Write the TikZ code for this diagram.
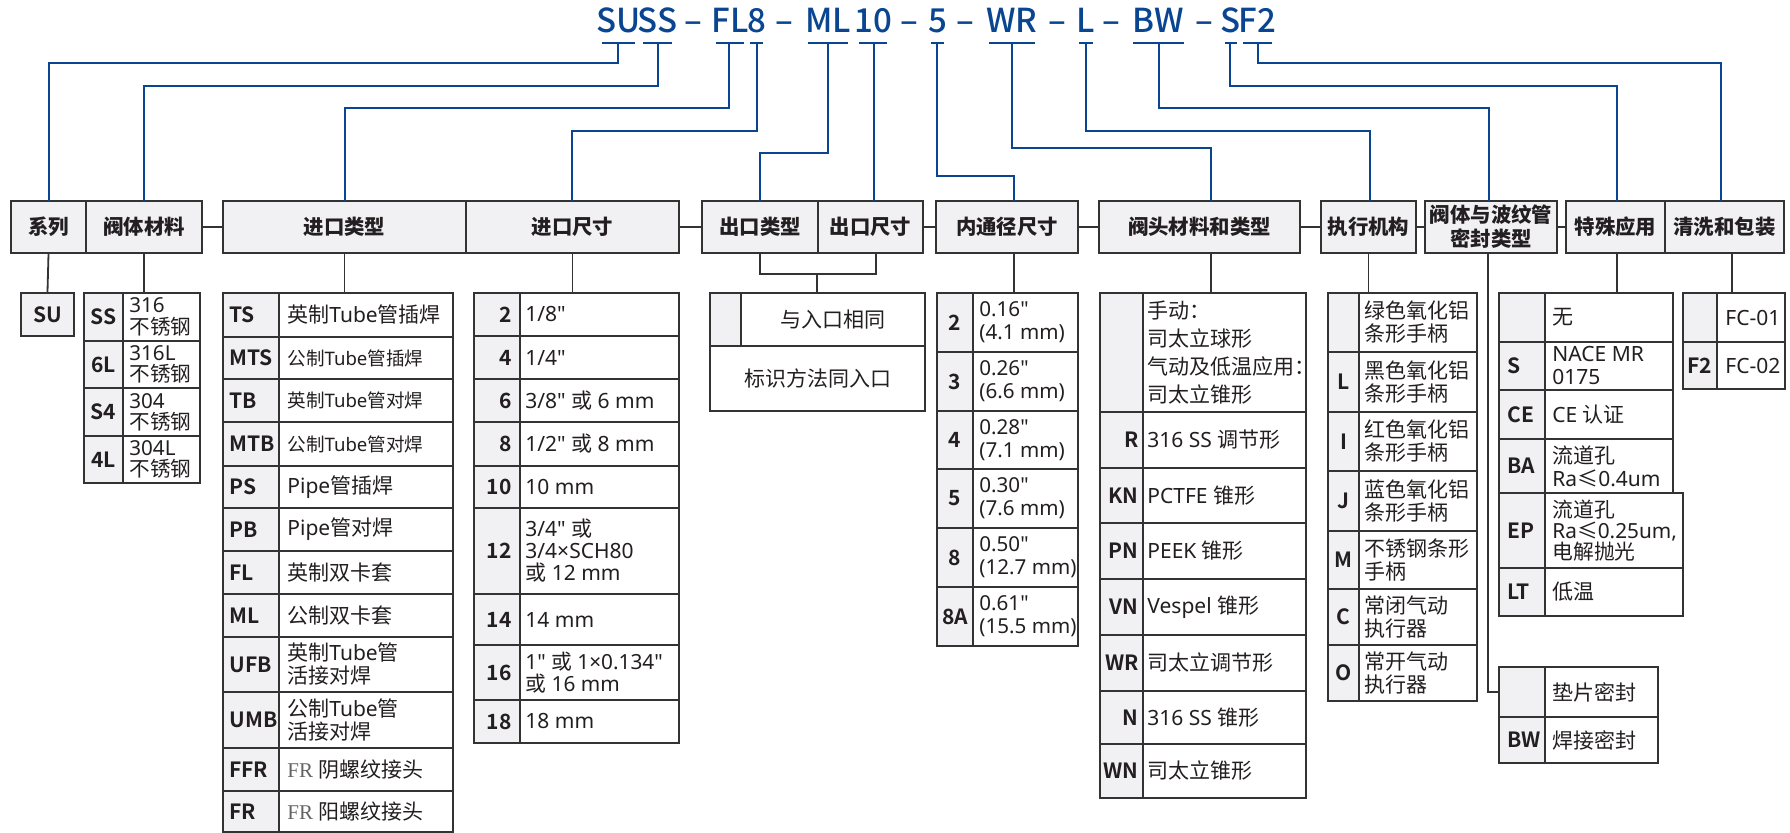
\documentclass[tikz,border=0pt]{standalone}
\usepackage{fontspec}
\newfontfamily\latfont{Noto Sans}
\setmainfont{Noto Sans}
\newfontfamily\cjkfont{Noto Sans CJK SC}[BoldFont={Noto Sans CJK SC Bold}]
\newfontfamily\serifR{Liberation Serif}
\IfFontExistsTF{Noto Sans CJK SC Medium}{\newfontfamily\topff{Noto Sans CJK SC Medium}}{\newfontfamily\topff{Noto Sans}}
\IfFontExistsTF{Noto Sans CJK SC Black}{\newfontfamily\hdrff{Noto Sans CJK SC Black}}{\newfontfamily\hdrff{Noto Sans CJK SC Bold}}
\ifdefined\newXeTeXintercharclass \newXeTeXintercharclass\cjkcls \else \chardef\cjkcls=7 \fi
\newcount\cjkc
\cjkc="4E00 \loop\ifnum\cjkc<"A000 \XeTeXcharclass\cjkc=\cjkcls \advance\cjkc by 1 \repeat
\cjkc="3000 \loop\ifnum\cjkc<"3040 \XeTeXcharclass\cjkc=\cjkcls \advance\cjkc by 1 \repeat
\cjkc="FF00 \loop\ifnum\cjkc<"FFF0 \XeTeXcharclass\cjkc=\cjkcls \advance\cjkc by 1 \repeat
\XeTeXcharclass"2264=\cjkcls
\XeTeXinterchartoks 0 \cjkcls = {\cjkfont}
\XeTeXinterchartoks 4095 \cjkcls = {\cjkfont}
\XeTeXinterchartoks \cjkcls 0 = {\latfont}
\XeTeXinterchartoks \cjkcls 4095 = {\latfont}
\XeTeXinterchartokenstate=1

\definecolor{codeblue}{HTML}{0A4592}
\definecolor{cgray}{HTML}{F1F1F4}
\definecolor{lk}{HTML}{333333}
\definecolor{tk}{HTML}{231F20}

\newcommand\topfont{\fontsize{16.5pt}{18pt}\selectfont\topff}
\newcommand\hfont{\XeTeXinterchartokenstate=0 \fontsize{10.2pt}{12pt}\selectfont\hdrff}
\newcommand\cfont{\fontsize{10.5pt}{12pt}\selectfont\cjkfont\bfseries}
\newcommand\tfont{\fontsize{10.5pt}{11.5pt}\selectfont\latfont}
\newcommand\sm{\fontsize{9.3pt}{11pt}\selectfont}
\let\txtfont\tfont

\tikzset{
  bline/.style={draw=codeblue, line width=1.15pt},
  kline/.style={draw=lk, line width=0.9pt},
  cellline/.style={draw=lk, line width=0.9pt},
  hdrbox/.style={draw=lk, line width=0.9pt, fill=cgray, inner sep=0pt, align=center, font=\hfont, text=tk, minimum height=26pt},
  topc/.style={inner sep=0pt, font=\topfont, text=codeblue},
  code/.style={inner sep=0pt, font=\cfont, text=tk},
  txt/.style={inner sep=0pt, align=left, font=\txtfont, text=tk},
}

\newcommand\crow[8]{%
  \draw[cellline, fill=cgray] (#2,#5) rectangle (#3,#6);
  \draw[cellline, fill=white] (#3,#5) rectangle (#4,#6);
  \node[code, anchor=\can] (#1c) at (\cax,{(#5+#6)/2}) {#7};
  \node[txt, anchor=west] (#1t) at ({#3+\tpad},{(#5+#6)/2}) {#8};
}

\begin{document}
\begin{tikzpicture}[x=0.5pt,y=-0.5pt]
\useasboundingbox (0,0) rectangle (1790,833);
\fill[white] (0,0) rectangle (1790,833);

% ---------- code string ----------
\foreach \nm/\tx/\cx in {SU/SU/618.5, SS/SS/657.5, FL/FL/730, E/8/756.5, ML/ML/828, T/10/873, F/5/937.5, WR/WR/1012, L/L/1086, BW/BW/1158.5, S/S/1231, FT/F2/1257.5}
  \node[topc, anchor=base] (p\nm) at (\cx,33) {\tx};
\foreach \i/\cx in {1/693, 2/784, 3/909, 4/965.5, 5/1057.5, 6/1111.5, 7/1204}
  \node[topc, anchor=base] (d\i) at (\cx,33) {–};
\foreach \a/\b in {602/635, 643/672, 716/744, 750/763, 808/848, 859/887, 931/944, 989/1035, 1079/1093, 1133/1184, 1225/1237, 1243/1272}
  \draw[bline] (\a,43) -- (\b,43);

\coordinate (uSU) at (618,43);  \coordinate (uSS) at (658,43);
\coordinate (uFL) at (729,43);  \coordinate (u8) at (757,43);
\coordinate (uML) at (828,43);  \coordinate (u10) at (874,43);
\coordinate (u5) at (937,43);   \coordinate (uWR) at (1012,43);
\coordinate (uL) at (1086,43);  \coordinate (uBW) at (1159,43);
\coordinate (uS) at (1230,43);  \coordinate (uF2) at (1258,43);

% ---------- headers ----------
\node[hdrbox, minimum width=37.5pt] (hSer) at (48.5,227) {系列};
\node[hdrbox, minimum width=58pt] (hMat) at (144,227) {阀体材料};
\node[hdrbox, minimum width=121.5pt] (hInT) at (344.5,227) {进口类型};
\node[hdrbox, minimum width=106.5pt] (hInS) at (572.5,227) {进口尺寸};
\node[hdrbox, minimum width=58pt] (hOutT) at (760,227) {出口类型};
\node[hdrbox, minimum width=52.5pt] (hOutS) at (870.5,227) {出口尺寸};
\node[hdrbox, minimum width=71pt] (hBore) at (1007,227) {内通径尺寸};
\node[hdrbox, minimum width=100.5pt] (hHead) at (1199.5,227) {阀头材料和类型};
\node[hdrbox, minimum width=47.5pt] (hAct) at (1368.5,227) {执行机构};
\node[hdrbox, minimum width=66pt] (hSeal) at (1491,227) {阀体与波纹管\\密封类型};
\node[hdrbox, minimum width=49.5pt] (hSpec) at (1615.5,227) {特殊应用};
\node[hdrbox, minimum width=59.5pt] (hClean) at (1724.5,227) {清洗和包装};

\draw[kline] (hMat.east) -- (hInT.west);
\draw[kline] (hInS.east) -- (hOutT.west);
\draw[kline] (hOutS.east) -- (hBore.west);
\draw[kline] (hBore.east) -- (hHead.west);
\draw[kline] (hHead.east) -- (hAct.west);
\draw[kline] (hAct.east) -- (hSeal.west);
\draw[kline] (hSeal.east) -- (hSpec.west);

% attach points on header tops
\coordinate (aSer) at (49,201);   \coordinate (aMat) at (144,201);
\coordinate (aInT) at (345,201);  \coordinate (aInS) at (572,201);
\coordinate (aOutT) at (760,201); \coordinate (aOutS) at (874,201);
\coordinate (aBore) at (1014,201);\coordinate (aHead) at (1211,201);
\coordinate (aAct) at (1370,201); \coordinate (aSeal) at (1489,201);
\coordinate (aSpec) at (1617,201);\coordinate (aClean) at (1721,201);

% ---------- blue connectors ----------
\draw[bline] (uSU) -- ++(0,20) -| (aSer);
\draw[bline] (uSS) -- ++(0,43) -| (aMat);
\draw[bline] (uFL) -- ++(0,65) -| (aInT);
\draw[bline] (u8) -- ++(0,88) -| (aInS);
\draw[bline] (uML) -- ++(0,110) -| (aOutT);
\draw[bline] (u10) -- (aOutS);
\draw[bline] (u5) -- ++(0,133) -| (aBore);
\draw[bline] (uWR) -- ++(0,105) -| (aHead);
\draw[bline] (uL) -- ++(0,88) -| (aAct);
\draw[bline] (uBW) -- ++(0,65) -| (aSeal);
\draw[bline] (uS) -- ++(0,43) -| (aSpec);
\draw[bline] (uF2) -- ++(0,20) -| (aClean);

% ---------- series ----------
\node[cellline, draw, fill=cgray, minimum width=26.5pt, minimum height=21.5pt, inner sep=0pt, font=\cfont, text=tk] (tSU) at (47.5,314.5) {SU};
\draw[kline] (hSer.south) -- (tSU.north);

% ---------- body material ----------
\draw[kline] (hMat.south) -- (144,293);
\def\can{center}\def\cax{103.5}\def\tpad{6}
\def\txtfont{\fontsize{10.3pt}{10.6pt}\selectfont\latfont}
\crow{mSS}{84}{123}{200}{293}{341}{SS}{316\\不锈钢}
\crow{m6L}{84}{123}{200}{341}{388}{6L}{316L\\不锈钢}
\crow{mS4}{84}{123}{200}{388}{436}{S4}{304\\不锈钢}
\crow{m4L}{84}{123}{200}{436}{483}{4L}{304L\\不锈钢}
\let\txtfont\tfont

% ---------- inlet type ----------
\draw[kline] (hInT.south) -- (344.5,293);
\def\can{west}\def\cax{229}\def\tpad{8}
\crow{iTS}{223}{279}{453}{293}{337}{TS}{英制Tube管插焊}
\crow{iMTS}{223}{279}{453}{337}{379}{MTS}{\sm 公制Tube管插焊}
\crow{iTB}{223}{279}{453}{379}{422}{TB}{\sm 英制Tube管对焊}
\crow{iMTB}{223}{279}{453}{422}{466}{MTB}{\sm 公制Tube管对焊}
\crow{iPS}{223}{279}{453}{466}{508}{PS}{Pipe管插焊}
\crow{iPB}{223}{279}{453}{508}{551}{PB}{Pipe管对焊}
\crow{iFL}{223}{279}{453}{551}{594}{FL}{英制双卡套}
\crow{iML}{223}{279}{453}{594}{637}{ML}{公制双卡套}
\crow{iUFB}{223}{279}{453}{637}{692}{UFB}{英制Tube管\\活接对焊}
\crow{iUMB}{223}{279}{453}{692}{748}{UMB}{公制Tube管\\活接对焊}
\crow{iFFR}{223}{279}{453}{748}{791}{FFR}{{\XeTeXinterchartokenstate=0 \serifR\color{tk!70}FR} 阴螺纹接头}
\crow{iFR}{223}{279}{453}{791}{832}{FR}{{\XeTeXinterchartokenstate=0 \serifR\color{tk!70}FR} 阳螺纹接头}

% ---------- inlet size ----------
\draw[kline] (hInS.south) -- (572.5,293);
\def\can{east}\def\cax{512}\def\tpad{5}
\crow{s2}{474}{520}{679}{293}{336}{2}{1/8"}
\crow{s4}{474}{520}{679}{336}{379}{4}{1/4"}
\crow{s6}{474}{520}{679}{379}{422}{6}{3/8" 或 6 mm}
\crow{s8}{474}{520}{679}{422}{466}{8}{1/2" 或 8 mm}
\crow{s10}{474}{520}{679}{466}{508}{10}{10 mm}
\def\txtfont{\fontsize{10.5pt}{11pt}\selectfont\latfont}
\crow{s12}{474}{520}{679}{508}{594}{12}{3/4" 或\\3/4×SCH80\\或 12 mm}
\let\txtfont\tfont
\crow{s14}{474}{520}{679}{594}{645}{14}{14 mm}
\def\txtfont{\fontsize{10.4pt}{10.7pt}\selectfont\latfont}
\crow{s16}{474}{520}{679}{645}{700}{16}{1" 或 1×0.134"\\或 16 mm}
\let\txtfont\tfont
\crow{s18}{474}{520}{679}{700}{743}{18}{18 mm}

% ---------- outlet ----------
\coordinate (oR) at (876,253);
\coordinate (oJ) at (817,273);
\draw[kline] (hOutT.south) -- ++(0,20) -| (oR);
\draw[cellline, fill=cgray] (710,293) rectangle (741,346);
\draw[cellline, fill=white] (741,293) rectangle (925,346);
\draw[cellline, fill=white] (710,346) rectangle (925,411);
\node[txt] (oSame) at (833,319.5) {与入口相同};
\node[txt] (oMark) at (817.5,378.5) {标识方法同入口};
\draw[kline] (oJ) -- (817,293);

% ---------- bore ----------
\draw[kline] (1014,253) -- (1014,293);
\def\can{center}\def\cax{955}\def\tpad{6}
\def\txtfont{\fontsize{10.3pt}{11.5pt}\selectfont\latfont}
\crow{b2}{937}{973}{1078}{293}{352}{2}{0.16"\\(4.1 mm)}
\crow{b3}{937}{973}{1078}{352}{411}{3}{0.26"\\(6.6 mm)}
\crow{b4}{937}{973}{1078}{411}{469}{4}{0.28"\\(7.1 mm)}
\crow{b5}{937}{973}{1078}{469}{528}{5}{0.30"\\(7.6 mm)}
\crow{b8}{937}{973}{1078}{528}{587}{8}{0.50"\\(12.7 mm)}
\crow{b8A}{937}{973}{1078}{587}{646}{8A}{0.61"\\(15.5 mm)}
\let\txtfont\tfont

% ---------- valve head ----------
\draw[kline] (1211,253) -- (1211,293);
\def\can{east}\def\cax{1139}\def\tpad{4}
\def\txtfont{\fontsize{10.5pt}{14pt}\selectfont\latfont}
\crow{v0}{1100}{1143}{1306}{293}{412}{}{手动：\\司太立球形\\气动及低温应用：\\司太立锥形}
\let\txtfont\tfont
\crow{vR}{1100}{1143}{1306}{412}{468}{R}{316 SS 调节形}
\crow{vKN}{1100}{1143}{1306}{468}{523}{KN}{PCTFE 锥形}
\crow{vPN}{1100}{1143}{1306}{523}{579}{PN}{PEEK 锥形}
\crow{vVN}{1100}{1143}{1306}{579}{635}{VN}{Vespel 锥形}
\crow{vWR}{1100}{1143}{1306}{635}{691}{WR}{司太立调节形}
\crow{vN}{1100}{1143}{1306}{691}{744}{N}{316 SS 锥形}
\crow{vWN}{1100}{1143}{1306}{744}{798}{WN}{司太立锥形}

% ---------- actuator ----------
\draw[kline] (hAct.south) -- (1368.5,293);
\def\can{center}\def\cax{1343.5}\def\tpad{5}
\crow{a0}{1328}{1359}{1477}{293}{352}{}{绿色氧化铝\\条形手柄}
\crow{aL}{1328}{1359}{1477}{352}{412}{L}{黑色氧化铝\\条形手柄}
\crow{aI}{1328}{1359}{1477}{412}{471}{I}{红色氧化铝\\条形手柄}
\crow{aJ}{1328}{1359}{1477}{471}{531}{J}{蓝色氧化铝\\条形手柄}
\crow{aM}{1328}{1359}{1477}{531}{589}{M}{不锈钢条形\\手柄}
\crow{aC}{1328}{1359}{1477}{589}{645}{C}{常闭气动\\执行器}
\crow{aO}{1328}{1359}{1477}{645}{701}{O}{常开气动\\执行器}

% ---------- seal ----------
\coordinate (sealTop) at (1488,253);
\coordinate (sealIn) at (1499,692);
\draw[kline] (sealTop) |- (sealIn);
\def\can{west}\def\cax{1507}\def\tpad{7}
\crow{e0}{1499}{1545}{1658}{667}{717}{}{垫片密封}
\crow{eBW}{1499}{1545}{1658}{717}{763}{BW}{焊接密封}

% ---------- special application ----------
\draw[kline] (1617,253) -- (1617,293);
\crow{x0}{1499}{1545}{1673}{293}{342}{}{无}
\crow{xS}{1499}{1545}{1673}{342}{390}{S}{NACE MR\\0175}
\crow{xCE}{1499}{1545}{1673}{390}{439}{CE}{CE 认证}
\crow{xBA}{1499}{1545}{1673}{439}{493}{BA}{流道孔\\Ra≤0.4um}
\def\txtfont{\fontsize{10.4pt}{10.7pt}\selectfont\latfont}
\crow{xEP}{1499}{1545}{1683}{493}{568}{EP}{流道孔\\Ra≤0.25um,\\电解抛光}
\let\txtfont\tfont
\crow{xLT}{1499}{1545}{1683}{568}{616}{LT}{低温}

% ---------- cleaning ----------
\draw[kline] (1732,253) -- (1732,293);
\def\can{center}\def\cax{1700}\def\tpad{8}
\crow{c0}{1683}{1717}{1785}{293}{342}{}{FC-01}
\crow{cF2}{1683}{1717}{1785}{342}{389}{F2}{FC-02}

\end{tikzpicture}
\end{document}
